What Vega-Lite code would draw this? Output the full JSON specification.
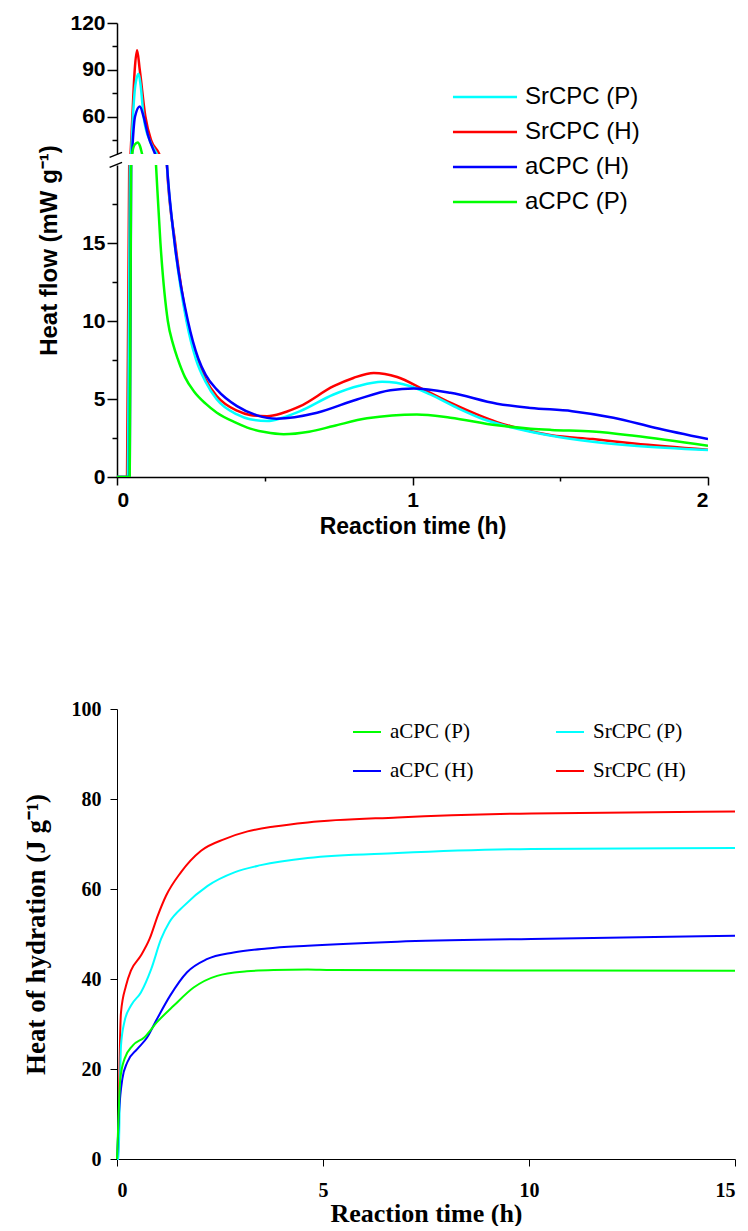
{
"$schema":"https://vega.github.io/schema/vega-lite/v6.json",
"background":"white",
"padding":{"top":12,"left":22,"right":0,"bottom":0},
"bounds":"flush",
"spacing":11,
"datasets":{
"flow":[
{"s":"SrCPC (H)","t":0,"v":0},{"s":"SrCPC (H)","t":0.034,"v":0},{"s":"SrCPC (H)","t":0.046,"v":36},{"s":"SrCPC (H)","t":0.052,"v":60},{"s":"SrCPC (H)","t":0.06,"v":90},{"s":"SrCPC (H)","t":0.068,"v":102.5},{"s":"SrCPC (H)","t":0.077,"v":90},{"s":"SrCPC (H)","t":0.096,"v":60},{"s":"SrCPC (H)","t":0.115,"v":45},{"s":"SrCPC (H)","t":0.143,"v":36},{"s":"SrCPC (H)","t":0.169,"v":20},{"s":"SrCPC (H)","t":0.197,"v":15},{"s":"SrCPC (H)","t":0.237,"v":10},{"s":"SrCPC (H)","t":0.27,"v":7.6},{"s":"SrCPC (H)","t":0.3,"v":6.25},{"s":"SrCPC (H)","t":0.338,"v":5.18},{"s":"SrCPC (H)","t":0.406,"v":4.25},{"s":"SrCPC (H)","t":0.45,"v":3.98},{"s":"SrCPC (H)","t":0.508,"v":3.9},{"s":"SrCPC (H)","t":0.56,"v":4.1},{"s":"SrCPC (H)","t":0.62,"v":4.54},{"s":"SrCPC (H)","t":0.733,"v":5.82},{"s":"SrCPC (H)","t":0.8,"v":6.35},{"s":"SrCPC (H)","t":0.869,"v":6.67},{"s":"SrCPC (H)","t":0.948,"v":6.41},{"s":"SrCPC (H)","t":1.038,"v":5.6},{"s":"SrCPC (H)","t":1.128,"v":4.76},{"s":"SrCPC (H)","t":1.218,"v":4.01},{"s":"SrCPC (H)","t":1.286,"v":3.52},{"s":"SrCPC (H)","t":1.33,"v":3.27},{"s":"SrCPC (H)","t":1.47,"v":2.68},{"s":"SrCPC (H)","t":1.61,"v":2.43},{"s":"SrCPC (H)","t":1.75,"v":2.15},{"s":"SrCPC (H)","t":2.0,"v":1.75},
{"s":"SrCPC (P)","t":0,"v":0},{"s":"SrCPC (P)","t":0.037,"v":0},{"s":"SrCPC (P)","t":0.048,"v":36},{"s":"SrCPC (P)","t":0.054,"v":60},{"s":"SrCPC (P)","t":0.062,"v":80},{"s":"SrCPC (P)","t":0.073,"v":87.5},{"s":"SrCPC (P)","t":0.08,"v":80},{"s":"SrCPC (P)","t":0.09,"v":60},{"s":"SrCPC (P)","t":0.11,"v":45},{"s":"SrCPC (P)","t":0.135,"v":36},{"s":"SrCPC (P)","t":0.169,"v":20},{"s":"SrCPC (P)","t":0.195,"v":15},{"s":"SrCPC (P)","t":0.235,"v":10},{"s":"SrCPC (P)","t":0.268,"v":7.5},{"s":"SrCPC (P)","t":0.3,"v":6.1},{"s":"SrCPC (P)","t":0.338,"v":4.97},{"s":"SrCPC (P)","t":0.406,"v":4.01},{"s":"SrCPC (P)","t":0.45,"v":3.7},{"s":"SrCPC (P)","t":0.508,"v":3.59},{"s":"SrCPC (P)","t":0.56,"v":3.8},{"s":"SrCPC (P)","t":0.62,"v":4.22},{"s":"SrCPC (P)","t":0.733,"v":5.29},{"s":"SrCPC (P)","t":0.82,"v":5.85},{"s":"SrCPC (P)","t":0.897,"v":6.1},{"s":"SrCPC (P)","t":0.993,"v":5.82},{"s":"SrCPC (P)","t":1.06,"v":5.29},{"s":"SrCPC (P)","t":1.15,"v":4.44},{"s":"SrCPC (P)","t":1.24,"v":3.7},{"s":"SrCPC (P)","t":1.33,"v":3.2},{"s":"SrCPC (P)","t":1.47,"v":2.64},{"s":"SrCPC (P)","t":1.61,"v":2.26},{"s":"SrCPC (P)","t":1.75,"v":2.0},{"s":"SrCPC (P)","t":2.0,"v":1.73},
{"s":"aCPC (H)","t":0,"v":0},{"s":"aCPC (H)","t":0.043,"v":0},{"s":"aCPC (H)","t":0.051,"v":36},{"s":"aCPC (H)","t":0.061,"v":60},{"s":"aCPC (H)","t":0.077,"v":66.5},{"s":"aCPC (H)","t":0.09,"v":60},{"s":"aCPC (H)","t":0.105,"v":48},{"s":"aCPC (H)","t":0.129,"v":36},{"s":"aCPC (H)","t":0.169,"v":20},{"s":"aCPC (H)","t":0.195,"v":15},{"s":"aCPC (H)","t":0.24,"v":10},{"s":"aCPC (H)","t":0.275,"v":7.6},{"s":"aCPC (H)","t":0.3,"v":6.55},{"s":"aCPC (H)","t":0.338,"v":5.6},{"s":"aCPC (H)","t":0.406,"v":4.54},{"s":"aCPC (H)","t":0.474,"v":3.95},{"s":"aCPC (H)","t":0.54,"v":3.74},{"s":"aCPC (H)","t":0.677,"v":4.12},{"s":"aCPC (H)","t":0.812,"v":4.97},{"s":"aCPC (H)","t":0.925,"v":5.56},{"s":"aCPC (H)","t":1.004,"v":5.67},{"s":"aCPC (H)","t":1.128,"v":5.4},{"s":"aCPC (H)","t":1.286,"v":4.7},{"s":"aCPC (H)","t":1.4,"v":4.43},{"s":"aCPC (H)","t":1.54,"v":4.22},{"s":"aCPC (H)","t":1.68,"v":3.8},{"s":"aCPC (H)","t":1.82,"v":3.16},{"s":"aCPC (H)","t":2.0,"v":2.43},
{"s":"aCPC (P)","t":0,"v":0},{"s":"aCPC (P)","t":0.043,"v":0},{"s":"aCPC (P)","t":0.051,"v":36},{"s":"aCPC (P)","t":0.06,"v":42},{"s":"aCPC (P)","t":0.07,"v":43.4},{"s":"aCPC (P)","t":0.078,"v":41},{"s":"aCPC (P)","t":0.085,"v":36},{"s":"aCPC (P)","t":0.132,"v":20},{"s":"aCPC (P)","t":0.147,"v":15},{"s":"aCPC (P)","t":0.172,"v":10},{"s":"aCPC (P)","t":0.19,"v":8.5},{"s":"aCPC (P)","t":0.205,"v":7.6},{"s":"aCPC (P)","t":0.23,"v":6.4},{"s":"aCPC (P)","t":0.26,"v":5.5},{"s":"aCPC (P)","t":0.3,"v":4.7},{"s":"aCPC (P)","t":0.338,"v":4.12},{"s":"aCPC (P)","t":0.4,"v":3.5},{"s":"aCPC (P)","t":0.451,"v":3.1},{"s":"aCPC (P)","t":0.5,"v":2.88},{"s":"aCPC (P)","t":0.564,"v":2.74},{"s":"aCPC (P)","t":0.65,"v":2.9},{"s":"aCPC (P)","t":0.733,"v":3.27},{"s":"aCPC (P)","t":0.846,"v":3.76},{"s":"aCPC (P)","t":1.015,"v":4.01},{"s":"aCPC (P)","t":1.128,"v":3.8},{"s":"aCPC (P)","t":1.286,"v":3.31},{"s":"aCPC (P)","t":1.4,"v":3.1},{"s":"aCPC (P)","t":1.47,"v":3.02},{"s":"aCPC (P)","t":1.61,"v":2.91},{"s":"aCPC (P)","t":1.75,"v":2.64},{"s":"aCPC (P)","t":2.0,"v":2.0}
],
"hyd":[
{"s":"SrCPC (H)","t":0,"v":0},{"s":"SrCPC (H)","t":0.03,"v":0},{"s":"SrCPC (H)","t":0.06,"v":20},{"s":"SrCPC (H)","t":0.097,"v":32.6},{"s":"SrCPC (H)","t":0.218,"v":38.5},{"s":"SrCPC (H)","t":0.34,"v":41.9},{"s":"SrCPC (H)","t":0.58,"v":45.2},{"s":"SrCPC (H)","t":0.79,"v":48.9},{"s":"SrCPC (H)","t":0.99,"v":54.1},{"s":"SrCPC (H)","t":1.19,"v":58.5},{"s":"SrCPC (H)","t":1.55,"v":63.7},{"s":"SrCPC (H)","t":2.04,"v":68.5},{"s":"SrCPC (H)","t":2.61,"v":71.1},{"s":"SrCPC (H)","t":3.17,"v":72.8},{"s":"SrCPC (H)","t":3.82,"v":73.9},{"s":"SrCPC (H)","t":4.63,"v":74.8},{"s":"SrCPC (H)","t":6.81,"v":75.9},{"s":"SrCPC (H)","t":10.06,"v":76.8},{"s":"SrCPC (H)","t":15,"v":77.2},
{"s":"SrCPC (P)","t":0,"v":0},{"s":"SrCPC (P)","t":0.04,"v":0},{"s":"SrCPC (P)","t":0.07,"v":15},{"s":"SrCPC (P)","t":0.097,"v":25.2},{"s":"SrCPC (P)","t":0.178,"v":30.4},{"s":"SrCPC (P)","t":0.34,"v":34.1},{"s":"SrCPC (P)","t":0.58,"v":37.0},{"s":"SrCPC (P)","t":0.83,"v":42.2},{"s":"SrCPC (P)","t":1.07,"v":48.9},{"s":"SrCPC (P)","t":1.27,"v":52.6},{"s":"SrCPC (P)","t":1.63,"v":56.3},{"s":"SrCPC (P)","t":2.2,"v":60.7},{"s":"SrCPC (P)","t":2.85,"v":63.7},{"s":"SrCPC (P)","t":3.49,"v":65.3},{"s":"SrCPC (P)","t":4.63,"v":66.9},{"s":"SrCPC (P)","t":6.81,"v":68.0},{"s":"SrCPC (P)","t":10.06,"v":68.9},{"s":"SrCPC (P)","t":15,"v":69.1},
{"s":"aCPC (H)","t":0,"v":0},{"s":"aCPC (H)","t":0.05,"v":10.4},{"s":"aCPC (H)","t":0.13,"v":17.8},{"s":"aCPC (H)","t":0.25,"v":21.5},{"s":"aCPC (H)","t":0.49,"v":24.4},{"s":"aCPC (H)","t":0.73,"v":27.0},{"s":"aCPC (H)","t":0.97,"v":31.1},{"s":"aCPC (H)","t":1.29,"v":36.3},{"s":"aCPC (H)","t":1.7,"v":41.5},{"s":"aCPC (H)","t":2.18,"v":44.4},{"s":"aCPC (H)","t":2.83,"v":45.9},{"s":"aCPC (H)","t":3.64,"v":46.8},{"s":"aCPC (H)","t":4.63,"v":47.4},{"s":"aCPC (H)","t":6.81,"v":48.3},{"s":"aCPC (H)","t":10.06,"v":48.9},{"s":"aCPC (H)","t":15,"v":49.6},
{"s":"aCPC (P)","t":0,"v":0},{"s":"aCPC (P)","t":0.04,"v":10},{"s":"aCPC (P)","t":0.08,"v":17.8},{"s":"aCPC (P)","t":0.18,"v":22.2},{"s":"aCPC (P)","t":0.38,"v":25.2},{"s":"aCPC (P)","t":0.66,"v":27.0},{"s":"aCPC (P)","t":0.97,"v":30.4},{"s":"aCPC (P)","t":1.38,"v":34.1},{"s":"aCPC (P)","t":1.86,"v":38.1},{"s":"aCPC (P)","t":2.43,"v":40.7},{"s":"aCPC (P)","t":3.15,"v":41.7},{"s":"aCPC (P)","t":3.8,"v":42.0},{"s":"aCPC (P)","t":4.63,"v":42.1},{"s":"aCPC (P)","t":5.2,"v":42.0},{"s":"aCPC (P)","t":15,"v":41.85}
],
"breaks":[{"t1":-0.025,"t2":0.017,"v1":20.49,"v2":20.81},{"t1":-0.025,"t2":0.017,"v1":19.85,"v2":20.17}]
},
"resolve":{"scale":{"color":"independent","x":"independent","y":"independent"},"legend":{"color":"independent"}},
"vconcat":[
{
"width":591,"height":131,
"data":{"name":"flow"},
"mark":{"type":"line","clip":true,"strokeWidth":2.5,"interpolate":"monotone"},
"encoding":{
"x":{"field":"t","type":"quantitative","scale":{"domain":[0,2],"nice":false},"axis":null},
"y":{"field":"v","type":"quantitative","scale":{"domain":[36,120],"nice":false,"zero":false},
"axis":{"title":null,"values":[45,60,75,90,105,120],"labelExpr":"datum.value % 30 == 0 ? format(datum.value,'d') : ''","tickSize":{"condition":{"test":"datum.value % 30 == 0","value":10},"value":5},"tickWidth":1.5,"domainWidth":1.5,"labelFont":"Liberation Sans","labelFontSize":21,"labelFontWeight":"bold","labelPadding":2}},
"color":{"field":"s","type":"nominal","scale":{"domain":["SrCPC (P)","SrCPC (H)","aCPC (H)","aCPC (P)"],"range":["#00FFFF","#FF0000","#0000FF","#00FF00"]},
"legend":{"title":null,"orient":"none","legendX":349,"legendY":55,"symbolType":"M-1.83,0L1.83,0","symbolSize":1225,"symbolStrokeWidth":2.5,"labelFont":"Liberation Sans","labelFontSize":24,"labelColor":"#000","labelOffset":21,"rowPadding":4}}
}
},
{
"width":591,"height":312,
"layer":[
{
"data":{"name":"flow"},
"mark":{"type":"line","clip":true,"strokeWidth":2.5,"interpolate":"monotone"},
"encoding":{
"x":{"field":"t","type":"quantitative","scale":{"domain":[0,2],"nice":false},
"axis":{"title":"Reaction time (h)","values":[0,0.5,1,1.5,2],"labelExpr":"datum.value % 1 == 0 ? format(datum.value,'d') : ''","tickSize":{"condition":{"test":"datum.value % 1 == 0","value":8},"value":4},"tickWidth":1.5,"domainWidth":1.5,"labelFont":"Liberation Sans","labelFontSize":21,"labelFontWeight":"bold","labelPadding":4,"titleFont":"Liberation Sans","titleFontSize":23,"titleFontWeight":"bold","titlePadding":5}},
"y":{"field":"v","type":"quantitative","scale":{"domain":[0,20],"nice":false},
"axis":{"title":"Heat flow (mW g⁻¹)","values":[0,2.5,5,7.5,10,12.5,15,17.5],"labelExpr":"datum.value % 5 == 0 ? format(datum.value,'d') : ''","tickSize":{"condition":{"test":"datum.value % 5 == 0","value":10},"value":5},"tickWidth":1.5,"domainWidth":1.5,"labelFont":"Liberation Sans","labelFontSize":21,"labelFontWeight":"bold","labelPadding":2,"titleFont":"Liberation Sans","titleFontSize":24,"titleFontWeight":"bold","titlePadding":20,"titleY":85}},
"color":{"field":"s","type":"nominal","scale":{"domain":["SrCPC (P)","SrCPC (H)","aCPC (H)","aCPC (P)"],"range":["#00FFFF","#FF0000","#0000FF","#00FF00"]},"legend":null}
}
},
{
"data":{"name":"breaks"},
"mark":{"type":"rule","color":"#000","strokeWidth":1.5,"clip":false},
"encoding":{"x":{"field":"t1","type":"quantitative"},"x2":{"field":"t2"},"y":{"field":"v1","type":"quantitative"},"y2":{"field":"v2"}}
}
]
},
{
"width":10,"height":210,
"data":{"values":[{"a":1}]},
"mark":{"type":"point","opacity":0}
},
{
"width":618,"height":450,
"data":{"name":"hyd"},
"mark":{"type":"line","strokeWidth":2,"interpolate":"monotone"},
"encoding":{
"x":{"field":"t","type":"quantitative","scale":{"domain":[0,15],"nice":false},
"axis":{"title":"Reaction time (h)","values":[0,5,10,15],"format":"d","tickSize":7,"domainWidth":1,"labelFont":"Liberation Serif","labelFontSize":20,"labelFontWeight":"bold","labelPadding":14,"titleFont":"Liberation Serif","titleFontSize":26,"titleFontWeight":"bold","titlePadding":0}},
"y":{"field":"v","type":"quantitative","scale":{"domain":[0,100],"nice":false},
"axis":{"title":"Heat of hydration (J g⁻¹)","values":[0,20,40,60,80,100],"format":"d","tickSize":7,"domainWidth":1,"labelFont":"Liberation Serif","labelFontSize":20,"labelFontWeight":"bold","labelPadding":9,"titleFont":"Liberation Serif","titleFontSize":27,"titleFontWeight":"bold","titlePadding":21}},
"color":{"field":"s","type":"nominal","scale":{"domain":["aCPC (P)","aCPC (H)","SrCPC (P)","SrCPC (H)"],"range":["#00FF00","#0000FF","#00FFFF","#FF0000"]},
"legend":{"title":null,"orient":"none","legendX":235,"legendY":8,"columns":2,"columnPadding":78,"symbolType":"stroke","symbolSize":784,"symbolStrokeWidth":2,"labelFont":"Liberation Serif","labelFontSize":21,"labelColor":"#000","labelOffset":8,"rowPadding":14}}
}
}
],
"config":{"view":{"stroke":null},"axis":{"grid":false,"domainColor":"#000","tickColor":"#000","labelColor":"#000","titleColor":"#000"}}
}
